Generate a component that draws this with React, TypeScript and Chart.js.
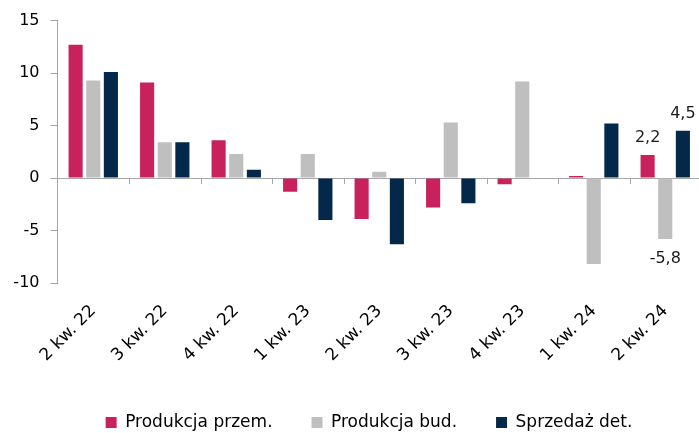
import React, { useEffect, useRef } from "react";
import { Chart, registerables } from "chart.js";

Chart.register(...registerables);

const categories = ["2 kw. 22", "3 kw. 22", "4 kw. 22", "1 kw. 23", "2 kw. 23", "3 kw. 23", "4 kw. 23", "1 kw. 24", "2 kw. 24"];
const produkcjaPrzem = [12.7, 9.1, 3.6, -1.3, -3.9, -2.8, -0.6, 0.2, 2.2];
const produkcjaBud = [9.3, 3.4, 2.3, 2.3, 0.6, 5.3, 9.2, -8.2, -5.8];
const sprzedazDet = [10.1, 3.4, 0.8, -4.0, -6.3, -2.4, 0.0, 5.2, 4.5];
const seriesNames = ["Produkcja przem.", "Produkcja bud.", "Sprzedaż det."];
const seriesColors = ["#C8215B", "#BFBFBF", "#03284A"];
const yTicks = [-10, -5, 0, 5, 10, 15];

const FONT = "'DejaVu Sans', Verdana, sans-serif";
const AXIS = "#A6A6A6";

const fmt = (v: number) => v.toFixed(1).replace(".", ",");

const lastLabelsPlugin = {
  id: "lastLabels",
  afterDatasetsDraw(chart: any) {
    const ctx = chart.ctx;
    ctx.save();
    ctx.font = `16px ${FONT}`;
    ctx.fillStyle = "#1a1a1a";
    ctx.textAlign = "center";
    chart.data.datasets.forEach((ds: any, i: number) => {
      const meta = chart.getDatasetMeta(i);
      const idx = ds.data.length - 1;
      const el = meta.data[idx];
      const v = ds.data[idx];
      if (!el) return;
      if (v >= 0) {
        ctx.textBaseline = "bottom";
        ctx.fillText(fmt(v), el.x, el.y - 9);
      } else {
        ctx.textBaseline = "top";
        ctx.fillText(fmt(v), el.x, el.y + 12);
      }
    });
    ctx.restore();
  },
};

const boundaryTicksPlugin = {
  id: "boundaryTicks",
  afterDatasetsDraw(chart: any) {
    const x = chart.scales.x;
    const y = chart.scales.y;
    const y0 = y.getPixelForValue(0);
    const ctx = chart.ctx;
    ctx.save();
    ctx.strokeStyle = AXIS;
    ctx.lineWidth = 1;
    const n = categories.length;
    const half = (x.getPixelForTick(1) - x.getPixelForTick(0)) / 2;
    for (let i = 0; i < n; i++) {
      const bx = Math.round(x.getPixelForTick(i) + half) + 0.5;
      ctx.beginPath();
      ctx.moveTo(bx, y0);
      ctx.lineTo(bx, y0 + 6);
      ctx.stroke();
    }
    ctx.restore();
  },
};

export default function App() {
  const ref = useRef<HTMLCanvasElement | null>(null);
  useEffect(() => {
    if (!ref.current) return;
    const chart = new Chart(ref.current, {
      type: "bar",
      data: {
        labels: categories,
        datasets: [produkcjaPrzem, produkcjaBud, sprzedazDet].map((d, i) => ({
          label: seriesNames[i],
          data: d,
          backgroundColor: seriesColors[i],
          borderWidth: 0,
          categoryPercentage: 0.74,
          barPercentage: 0.8,
          yAxisID: "y",
        })),
      },
      options: {
        responsive: false,
        animation: false,
        devicePixelRatio: 1,
        layout: { padding: { left: 0, right: 0, top: 19, bottom: 0 } },
        plugins: {
          legend: {
            position: "bottom",
            labels: {
              boxWidth: 11,
              boxHeight: 11,
              padding: 39,
              color: "#000",
              font: { family: FONT, size: 17 },
            },
          },
          tooltip: { enabled: false },
        },
        scales: {
          x: {
            grid: { display: false },
            border: { display: false },
            ticks: {
              color: "#000",
              font: { family: FONT, size: 17 },
              maxRotation: 45,
              minRotation: 45,
              padding: 10,
              autoSkip: false,
            },
            afterFit: (s: any) => {
              s.height = 92;
            },
          },
          y: {
            position: "left",
            min: -10,
            max: 15,
            afterBuildTicks: (s: any) => {
              s.ticks = yTicks.map((v) => ({ value: v }));
            },
            grid: {
              color: (c: any) => (c.tick && c.tick.value === 0 ? AXIS : "rgba(0,0,0,0)"),
              tickColor: AXIS,
              tickLength: 7,
              lineWidth: 1,
            },
            border: { display: true, color: AXIS, width: 1 },
            ticks: {
              color: "#000",
              font: { family: FONT, size: 16 },
              padding: 11,
              callback: (v: any) => String(v),
            },
            afterFit: (s: any) => {
              s.width = 57.5;
            },
          },
          spacer: {
            type: "linear",
            position: "right",
            display: true,
            grid: { display: false, drawTicks: false },
            border: { display: false },
            ticks: { display: false },
            afterFit: (s: any) => {
              s.width = 37;
            },
          },
        },
      },
      plugins: [lastLabelsPlugin, boundaryTicksPlugin],
    });
    return () => chart.destroy();
  }, []);
  return (
    <div style={{ position: "absolute", left: 0, top: 0, width: 699, height: 433, overflow: "hidden", background: "#fff" }}>
      <canvas ref={ref} width={738} height={441} style={{ display: "block" }} />
    </div>
  );
}
